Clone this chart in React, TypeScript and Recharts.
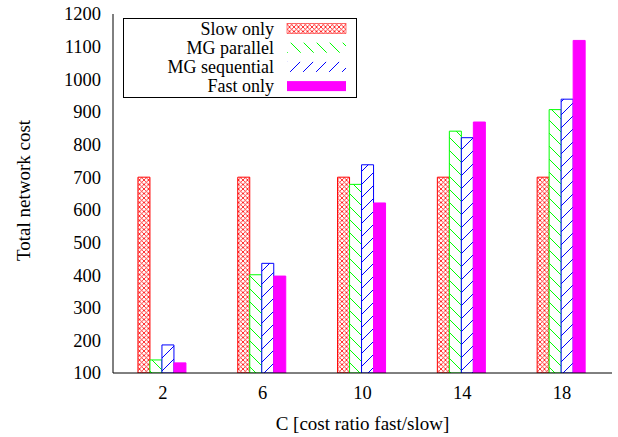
import React from 'react';
import { BarChart, Bar, XAxis, YAxis, Legend } from 'recharts';

const categories = ['2', '6', '10', '14', '18'];
const slowOnly = [700, 700, 700, 700, 700];
const mgParallel = [140, 401, 678, 841, 907];
const mgSequential = [186, 436, 738, 821, 939];
const fastOnly = [131, 397, 621, 869, 1119];
const yTicks = [100, 200, 300, 400, 500, 600, 700, 800, 900, 1000, 1100, 1200];

const seriesNames = ['Slow only', 'MG parallel', 'MG sequential', 'Fast only'];
const seriesKeys = ['slow', 'mgp', 'mgs', 'fast'];
const seriesFill = ['url(#pRed)', 'url(#pGreen)', 'url(#pBlue)', '#ff00ff'];
const seriesStroke = ['#ff0000', '#00ff00', '#0000ff', '#ff00ff'];

const data = categories.map((c, i) => ({
  c,
  slow: slowOnly[i],
  mgp: mgParallel[i],
  mgs: mgSequential[i],
  fast: fastOnly[i],
}));

const FONT = '"Liberation Serif", "Times New Roman", serif';
const FS = 19;
const LFS = 18;
const TFS = 18.5;
const TICK_LEN = 7;

const LeftTick = (props: any) => {
  const { x, y, payload, tickMargin } = props;
  const ax = x + tickMargin;
  return (
    <g>
      <line x1={ax} y1={y} x2={ax + TICK_LEN} y2={y} stroke="#000" strokeWidth={1} />
      <text x={x} y={y} dy="0.35em" textAnchor="end" fontFamily={FONT} fontSize={TFS} fill="#000">
        {payload.value}
      </text>
    </g>
  );
};

const RightTick = (props: any) => {
  const { x, y, tickMargin } = props;
  const ax = x - tickMargin;
  return <line x1={ax} y1={y} x2={ax - TICK_LEN} y2={y} stroke="#000" strokeWidth={1} />;
};

const BottomTick = (props: any) => {
  const { x, y, payload, tickMargin } = props;
  const ay = y - tickMargin;
  return (
    <g>
      <line x1={x} y1={ay} x2={x} y2={ay - TICK_LEN} stroke="#000" strokeWidth={1} />
      <text x={x} y={y} dy="0.71em" textAnchor="middle" fontFamily={FONT} fontSize={TFS} fill="#000">
        {payload.value}
      </text>
    </g>
  );
};

const TopTick = (props: any) => {
  const { x, y, tickMargin } = props;
  const ay = y + tickMargin;
  return <line x1={x} y1={ay} x2={x} y2={ay + TICK_LEN} stroke="#000" strokeWidth={1} />;
};

const LegendBox = () => {
  const w = 233;
  const rowH = 19.2;
  const h = 79;
  return (
    <svg width={w + 1} height={h + 1} style={{ display: 'block' }}>
      <rect x={0.5} y={0.5} width={w} height={h} fill="#fff" stroke="#000" strokeWidth={1} />
      {seriesNames.map((n, i) => {
        const base = 16.5 + i * rowH;
        return (
          <g key={n}>
            <text x={151} y={base} textAnchor="end" fontFamily={FONT} fontSize={LFS} fill="#000">
              {n}
            </text>
            <rect
              x={164}
              y={base - 11}
              width={59}
              height={10}
              fill={seriesFill[i]}
              stroke={i === 0 ? '#ff0000' : 'none'}
              strokeWidth={i === 0 ? 0.5 : 0}
            />
          </g>
        );
      })}
    </svg>
  );
};

export default function App() {
  return (
    <div style={{ position: 'absolute', left: 0, top: 0 }}>
      <BarChart
        width={618}
        height={437}
        data={data}
        margin={{ top: 14, right: 6, bottom: 0, left: 0 }}
        barCategoryGap="25%"
        barGap={0}
      >
        <defs>
          <pattern id="pRed" patternUnits="userSpaceOnUse" width="4.5" height="4.5">
            <rect width="4.5" height="4.5" fill="#fff" />
            <path d="M0,0 L4.5,4.5 M4.5,0 L0,4.5" stroke="#ff0000" strokeWidth="0.8" />
          </pattern>
          <pattern id="pGreen" patternUnits="userSpaceOnUse" width="13" height="13">
            <rect width="13" height="13" fill="#fff" />
            <path d="M0,0 L13,13 M-2,11 L2,15 M11,-2 L15,2" stroke="#00ff00" strokeWidth="1" />
          </pattern>
          <pattern id="pBlue" patternUnits="userSpaceOnUse" width="13" height="13">
            <rect width="13" height="13" fill="#fff" />
            <path d="M0,13 L13,0 M-2,2 L2,-2 M11,15 L15,11" stroke="#0000ff" strokeWidth="1" />
          </pattern>
        </defs>
        <XAxis
          dataKey="c"
          xAxisId="b"
          height={64}
          tickSize={0}
          tickMargin={13}
          tickLine={false}
          axisLine={{ stroke: '#000', strokeWidth: 1 }}
          tick={<BottomTick />}
          interval={0}
          label={{
            content: (p: any) => {
              const vb = p.viewBox;
              return (
                <text
                  x={vb.x + vb.width / 2}
                  y={vb.y + 57}
                  textAnchor="middle"
                  fontFamily={FONT}
                  fontSize={FS}
                  fill="#000"
                >
                  C [cost ratio fast/slow]
                </text>
              );
            },
          }}
        />
        <XAxis
          dataKey="c"
          xAxisId="t"
          orientation="top"
          height={0}
          tickSize={0}
          tickMargin={0}
          tickLine={false}
          axisLine={{ stroke: '#000', strokeWidth: 1 }}
          tick={<TopTick />}
          interval={0}
        />
        <YAxis
          yAxisId="l"
          width={113}
          domain={[100, 1200]}
          ticks={yTicks}
          allowDataOverflow
          tickSize={0}
          tickMargin={12}
          tickLine={false}
          axisLine={{ stroke: '#000', strokeWidth: 1 }}
          tick={<LeftTick />}
          interval={0}
          label={{
            content: (p: any) => {
              const vb = p.viewBox;
              const lx = vb.x + 30;
              const ly = vb.y + vb.height / 2 - 3;
              return (
                <text
                  x={lx}
                  y={ly}
                  transform={`rotate(-90 ${lx} ${ly})`}
                  textAnchor="middle"
                  fontFamily={FONT}
                  fontSize={FS}
                  fill="#000"
                >
                  Total network cost
                </text>
              );
            },
          }}
        />
        <YAxis
          yAxisId="r"
          orientation="right"
          width={0}
          domain={[100, 1200]}
          ticks={yTicks}
          allowDataOverflow
          tickSize={0}
          tickMargin={0}
          tickLine={false}
          axisLine={{ stroke: '#000', strokeWidth: 1 }}
          tick={<RightTick />}
          interval={0}
        />
        <Legend
          layout="vertical"
          align="center"
          verticalAlign="middle"
          wrapperStyle={{ left: 123, top: 18, width: 234, height: 80 }}
          content={() => <LegendBox />}
        />
        {seriesKeys.map((k, i) => (
          <Bar
            key={k}
            dataKey={k}
            name={seriesNames[i]}
            xAxisId="b"
            yAxisId="l"
            fill={seriesFill[i]}
            stroke={seriesStroke[i]}
            strokeWidth={1}
            isAnimationActive={false}
          />
        ))}
      </BarChart>
    </div>
  );
}
